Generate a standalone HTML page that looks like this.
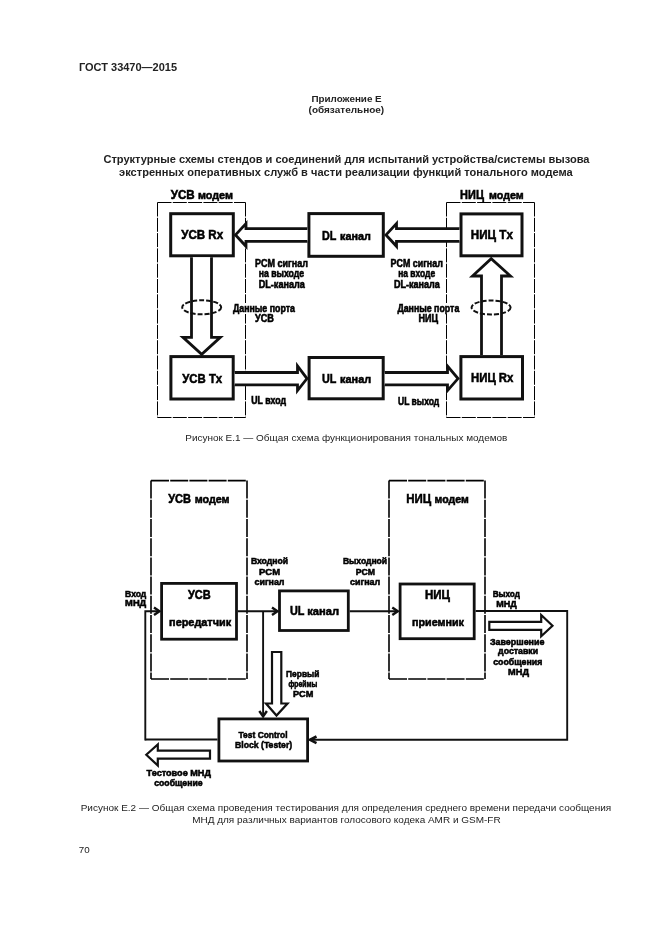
<!DOCTYPE html>
<html><head><meta charset="utf-8"><style>
html,body{margin:0;padding:0;background:#fff;}
svg{display:block;will-change:transform;}
text{font-family:"Liberation Sans",sans-serif;}
</style></head><body>
<svg width="661" height="935" viewBox="0 0 661 935">
<rect width="661" height="935" fill="#fff"/>
<path d="M157.5,202.5 H245.5" fill="none" stroke="#000" stroke-width="1" stroke-dasharray="14 1.3"/>
<path d="M157.5,202.5 V417.5" fill="none" stroke="#000" stroke-width="1" stroke-dasharray="14 1.3"/>
<path d="M245.5,202.5 V417.5" fill="none" stroke="#000" stroke-width="1" stroke-dasharray="14 1.3"/>
<path d="M157.5,417.5 H245.5" fill="none" stroke="#000" stroke-width="1" stroke-dasharray="14 1.3"/>
<path d="M446.5,202.5 H534.5" fill="none" stroke="#000" stroke-width="1" stroke-dasharray="14 1.3"/>
<path d="M446.5,202.5 V417.5" fill="none" stroke="#000" stroke-width="1" stroke-dasharray="14 1.3"/>
<path d="M534.5,202.5 V417.5" fill="none" stroke="#000" stroke-width="1" stroke-dasharray="14 1.3"/>
<path d="M446.5,417.5 H534.5" fill="none" stroke="#000" stroke-width="1" stroke-dasharray="14 1.3"/>
<rect x="233" y="303" width="62" height="11" fill="#fff"/>
<rect x="398" y="303" width="61" height="11" fill="#fff"/>
<rect x="170.70" y="213.70" width="62.60" height="42.10" fill="none" stroke="#111" stroke-width="3"/>
<rect x="308.90" y="213.60" width="74.40" height="42.70" fill="none" stroke="#111" stroke-width="3"/>
<rect x="461.00" y="213.90" width="61.00" height="41.90" fill="none" stroke="#111" stroke-width="3"/>
<rect x="170.90" y="356.60" width="62.30" height="42.40" fill="none" stroke="#111" stroke-width="3"/>
<rect x="309.10" y="357.50" width="74.10" height="41.30" fill="none" stroke="#111" stroke-width="3"/>
<rect x="460.90" y="356.60" width="61.60" height="42.40" fill="none" stroke="#111" stroke-width="3"/>
<path d="M307.4,228.6 H246 V223.5 L235.5,234.9 L246,246.3 V241.3 H307.4" fill="#fff" stroke="#111" stroke-width="2.8" stroke-linejoin="miter"/>
<path d="M459.5,228.6 H396.5 V223.5 L386,234.9 L396.5,246.3 V241.3 H459.5" fill="#fff" stroke="#111" stroke-width="2.8" stroke-linejoin="miter"/>
<path d="M191.5,257.3 V337.3 H183 L201.7,354.3 L220.3,337.3 H211.5 V257.3" fill="#fff" stroke="#111" stroke-width="2.8" stroke-linejoin="miter"/>
<path d="M481.5,355.1 V276 H472.5 L491.2,258.7 L510.5,276 H501.5 V355.1" fill="#fff" stroke="#111" stroke-width="2.8" stroke-linejoin="miter"/>
<path d="M234.7,372.5 H297.5 V366 L307,378.6 L297.5,390.6 V384.8 H234.7" fill="#fff" stroke="#111" stroke-width="2.8" stroke-linejoin="miter"/>
<path d="M384.7,372.5 H447.5 V366 L458,378.6 L447.5,390.6 V384.8 H384.7" fill="#fff" stroke="#111" stroke-width="2.8" stroke-linejoin="miter"/>
<ellipse cx="201.7" cy="307.3" rx="19.5" ry="7" fill="none" stroke="#111" stroke-width="2" stroke-dasharray="5 2"/>
<ellipse cx="491.1" cy="307.5" rx="19.5" ry="7" fill="none" stroke="#111" stroke-width="2" stroke-dasharray="5 2"/>
<path d="M151,480.6 H247" fill="none" stroke="#000" stroke-width="1.6" stroke-dasharray="18 1.2"/>
<path d="M151,480.6 V679" fill="none" stroke="#000" stroke-width="1.6" stroke-dasharray="18 1.2"/>
<path d="M247,480.6 V679" fill="none" stroke="#000" stroke-width="1.6" stroke-dasharray="18 1.2"/>
<path d="M151,679 H247" fill="none" stroke="#000" stroke-width="1.6" stroke-dasharray="18 1.2"/>
<path d="M389,480.6 H485" fill="none" stroke="#000" stroke-width="1.6" stroke-dasharray="18 1.2"/>
<path d="M389,480.6 V679" fill="none" stroke="#000" stroke-width="1.6" stroke-dasharray="18 1.2"/>
<path d="M485,480.6 V679" fill="none" stroke="#000" stroke-width="1.6" stroke-dasharray="18 1.2"/>
<path d="M389,679 H485" fill="none" stroke="#000" stroke-width="1.6" stroke-dasharray="18 1.2"/>
<rect x="161.60" y="583.40" width="74.90" height="55.80" fill="none" stroke="#111" stroke-width="2.8"/>
<rect x="279.50" y="590.90" width="68.80" height="39.60" fill="none" stroke="#111" stroke-width="2.8"/>
<rect x="400.10" y="584.00" width="74.10" height="54.70" fill="none" stroke="#111" stroke-width="2.8"/>
<rect x="218.90" y="718.90" width="88.70" height="42.10" fill="none" stroke="#111" stroke-width="2.8"/>
<path d="M145.3,740.4 V611.2 H159" fill="none" stroke="#111" stroke-width="1.9" stroke-linejoin="miter"/>
<path d="M237.9,611.2 H277" fill="none" stroke="#111" stroke-width="1.9" stroke-linejoin="miter"/>
<path d="M263.1,611.2 V716" fill="none" stroke="#111" stroke-width="1.9" stroke-linejoin="miter"/>
<path d="M349.7,611.2 H397.5" fill="none" stroke="#111" stroke-width="1.9" stroke-linejoin="miter"/>
<path d="M475.6,611 H567.2 V739.8 H310" fill="none" stroke="#111" stroke-width="1.9" stroke-linejoin="miter"/>
<path d="M217.5,739.5 H145.3" fill="none" stroke="#111" stroke-width="1.9" stroke-linejoin="miter"/>
<path d="M154.0,607.4000000000001 L159.5,611.2 L154.0,615.0" fill="none" stroke="#111" stroke-width="2.4" stroke-linejoin="miter"/>
<path d="M272.0,607.4000000000001 L277.5,611.2 L272.0,615.0" fill="none" stroke="#111" stroke-width="2.4" stroke-linejoin="miter"/>
<path d="M259.3,711.0 L263.1,716.5 L266.90000000000003,711.0" fill="none" stroke="#111" stroke-width="2.4" stroke-linejoin="miter"/>
<path d="M392.3,607.4000000000001 L397.8,611.2 L392.3,615.0" fill="none" stroke="#111" stroke-width="2.4" stroke-linejoin="miter"/>
<path d="M316.5,736.5 L310,739.8 L316.5,743.0999999999999" fill="none" stroke="#111" stroke-width="2.6" stroke-linejoin="miter"/>
<path d="M489.3,621.8 H541.2 V615 L552.5,625.7 L541.2,636.2 V629.8 H489.3 Z" fill="none" stroke="#111" stroke-width="2.2" stroke-linejoin="miter"/>
<path d="M272,652 V703.5 H266 L276.5,715.5 L287.5,703.5 H281.3 V652 Z" fill="none" stroke="#111" stroke-width="2.2" stroke-linejoin="miter"/>
<path d="M210,750.6 H157.8 V744.5 L146.3,754.8 L157.8,765.5 V758.7 H210 Z" fill="none" stroke="#111" stroke-width="2.2" stroke-linejoin="miter"/>
<text x="79.00" y="71.20" font-size="11" font-weight="bold" textLength="98.00" lengthAdjust="spacingAndGlyphs" fill="#222">ГОСТ 33470—2015</text>
<text x="311.40" y="102.00" font-size="9.4" font-weight="bold" textLength="70.30" lengthAdjust="spacingAndGlyphs" fill="#222">Приложение Е</text>
<text x="308.60" y="113.00" font-size="9.4" font-weight="bold" textLength="75.60" lengthAdjust="spacingAndGlyphs" fill="#222">(обязательное)</text>
<text x="103.40" y="163.10" font-size="10" font-weight="bold" textLength="486.12" lengthAdjust="spacingAndGlyphs" fill="#222">Структурные схемы стендов и соединений для испытаний устройства/системы вызова</text>
<text x="119.10" y="175.50" font-size="10" font-weight="bold" textLength="453.53" lengthAdjust="spacingAndGlyphs" fill="#222">экстренных оперативных служб в части реализации функций тонального модема</text>
<text x="170.70" y="198.80" font-size="13.5" font-weight="bold" textLength="24.00" lengthAdjust="spacingAndGlyphs" fill="#000" stroke="#000" stroke-width="0.55">УСВ</text>
<text x="197.90" y="198.80" font-size="11.6" font-weight="bold" textLength="35.00" lengthAdjust="spacingAndGlyphs" fill="#000" stroke="#000" stroke-width="0.55">модем</text>
<text x="460.10" y="198.80" font-size="13.5" font-weight="bold" textLength="23.80" lengthAdjust="spacingAndGlyphs" fill="#000" stroke="#000" stroke-width="0.55">НИЦ</text>
<text x="489.00" y="198.80" font-size="11.6" font-weight="bold" textLength="34.70" lengthAdjust="spacingAndGlyphs" fill="#000" stroke="#000" stroke-width="0.55">модем</text>
<text x="181.20" y="238.60" font-size="13" font-weight="bold" textLength="42.00" lengthAdjust="spacingAndGlyphs" fill="#000" stroke="#000" stroke-width="0.55">УСВ Rx</text>
<text x="321.90" y="240.10" font-size="13" font-weight="bold" textLength="14.40" lengthAdjust="spacingAndGlyphs" fill="#000" stroke="#000" stroke-width="0.55">DL</text>
<text x="340.10" y="240.10" font-size="11.2" font-weight="bold" textLength="30.70" lengthAdjust="spacingAndGlyphs" fill="#000" stroke="#000" stroke-width="0.55">канал</text>
<text x="470.80" y="238.70" font-size="13" font-weight="bold" textLength="42.10" lengthAdjust="spacingAndGlyphs" fill="#000" stroke="#000" stroke-width="0.55">НИЦ Tx</text>
<text x="255.00" y="267.10" font-size="10" font-weight="bold" textLength="52.90" lengthAdjust="spacingAndGlyphs" fill="#000" stroke="#000" stroke-width="0.55">PCM сигнал</text>
<text x="258.70" y="277.40" font-size="10" font-weight="bold" textLength="45.30" lengthAdjust="spacingAndGlyphs" fill="#000" stroke="#000" stroke-width="0.55">на выходе</text>
<text x="258.70" y="287.50" font-size="10" font-weight="bold" textLength="46.14" lengthAdjust="spacingAndGlyphs" fill="#000" stroke="#000" stroke-width="0.55">DL-канала</text>
<text x="233.00" y="312.20" font-size="10" font-weight="bold" textLength="61.94" lengthAdjust="spacingAndGlyphs" fill="#000" stroke="#000" stroke-width="0.55">Данные порта</text>
<text x="255.00" y="321.60" font-size="10" font-weight="bold" textLength="18.90" lengthAdjust="spacingAndGlyphs" fill="#000" stroke="#000" stroke-width="0.55">УСВ</text>
<text x="390.60" y="266.80" font-size="10" font-weight="bold" textLength="52.20" lengthAdjust="spacingAndGlyphs" fill="#000" stroke="#000" stroke-width="0.55">PCM сигнал</text>
<text x="398.20" y="277.20" font-size="10" font-weight="bold" textLength="37.00" lengthAdjust="spacingAndGlyphs" fill="#000" stroke="#000" stroke-width="0.55">на входе</text>
<text x="393.90" y="287.50" font-size="10" font-weight="bold" textLength="45.84" lengthAdjust="spacingAndGlyphs" fill="#000" stroke="#000" stroke-width="0.55">DL-канала</text>
<text x="397.40" y="312.20" font-size="10" font-weight="bold" textLength="61.94" lengthAdjust="spacingAndGlyphs" fill="#000" stroke="#000" stroke-width="0.55">Данные порта</text>
<text x="418.60" y="321.60" font-size="10" font-weight="bold" textLength="19.60" lengthAdjust="spacingAndGlyphs" fill="#000" stroke="#000" stroke-width="0.55">НИЦ</text>
<text x="182.20" y="382.80" font-size="13" font-weight="bold" textLength="40.00" lengthAdjust="spacingAndGlyphs" fill="#000" stroke="#000" stroke-width="0.55">УСВ Tx</text>
<text x="321.90" y="382.80" font-size="13" font-weight="bold" textLength="14.40" lengthAdjust="spacingAndGlyphs" fill="#000" stroke="#000" stroke-width="0.55">UL</text>
<text x="340.10" y="382.80" font-size="11.2" font-weight="bold" textLength="31.00" lengthAdjust="spacingAndGlyphs" fill="#000" stroke="#000" stroke-width="0.55">канал</text>
<text x="471.00" y="381.60" font-size="13" font-weight="bold" textLength="42.39" lengthAdjust="spacingAndGlyphs" fill="#000" stroke="#000" stroke-width="0.55">НИЦ Rx</text>
<text x="251.20" y="404.00" font-size="10" font-weight="bold" textLength="34.80" lengthAdjust="spacingAndGlyphs" fill="#000" stroke="#000" stroke-width="0.55">UL вход</text>
<text x="398.00" y="404.50" font-size="10" font-weight="bold" textLength="41.20" lengthAdjust="spacingAndGlyphs" fill="#000" stroke="#000" stroke-width="0.55">UL выход</text>
<text x="185.30" y="441.10" font-size="9" font-weight="normal" textLength="322.10" lengthAdjust="spacingAndGlyphs" fill="#222">Рисунок Е.1 — Общая схема функционирования тональных модемов</text>
<text x="168.20" y="502.70" font-size="13.5" font-weight="bold" textLength="22.80" lengthAdjust="spacingAndGlyphs" fill="#000" stroke="#000" stroke-width="0.55">УСВ</text>
<text x="194.70" y="502.70" font-size="11.6" font-weight="bold" textLength="34.90" lengthAdjust="spacingAndGlyphs" fill="#000" stroke="#000" stroke-width="0.55">модем</text>
<text x="406.20" y="502.80" font-size="13.5" font-weight="bold" textLength="25.00" lengthAdjust="spacingAndGlyphs" fill="#000" stroke="#000" stroke-width="0.55">НИЦ</text>
<text x="434.60" y="502.80" font-size="11.6" font-weight="bold" textLength="34.10" lengthAdjust="spacingAndGlyphs" fill="#000" stroke="#000" stroke-width="0.55">модем</text>
<text x="125.10" y="596.60" font-size="9" font-weight="bold" textLength="21.20" lengthAdjust="spacingAndGlyphs" fill="#000" stroke="#000" stroke-width="0.55">Вход</text>
<text x="125.10" y="606.30" font-size="9" font-weight="bold" textLength="21.20" lengthAdjust="spacingAndGlyphs" fill="#000" stroke="#000" stroke-width="0.55">МНД</text>
<text x="188.00" y="599.00" font-size="12" font-weight="bold" textLength="22.70" lengthAdjust="spacingAndGlyphs" fill="#000" stroke="#000" stroke-width="0.55">УСВ</text>
<text x="169.10" y="625.80" font-size="11" font-weight="bold" textLength="62.00" lengthAdjust="spacingAndGlyphs" fill="#000" stroke="#000" stroke-width="0.55">передатчик</text>
<text x="250.90" y="564.10" font-size="9" font-weight="bold" textLength="37.20" lengthAdjust="spacingAndGlyphs" fill="#000" stroke="#000" stroke-width="0.55">Входной</text>
<text x="259.00" y="575.00" font-size="9" font-weight="bold" textLength="21.00" lengthAdjust="spacingAndGlyphs" fill="#000" stroke="#000" stroke-width="0.55">PCM</text>
<text x="254.50" y="585.30" font-size="9" font-weight="bold" textLength="30.00" lengthAdjust="spacingAndGlyphs" fill="#000" stroke="#000" stroke-width="0.55">сигнал</text>
<text x="290.00" y="615.40" font-size="13" font-weight="bold" textLength="14.50" lengthAdjust="spacingAndGlyphs" fill="#000" stroke="#000" stroke-width="0.55">UL</text>
<text x="307.20" y="615.40" font-size="11.2" font-weight="bold" textLength="31.80" lengthAdjust="spacingAndGlyphs" fill="#000" stroke="#000" stroke-width="0.55">канал</text>
<text x="342.90" y="564.40" font-size="9" font-weight="bold" textLength="44.20" lengthAdjust="spacingAndGlyphs" fill="#000" stroke="#000" stroke-width="0.55">Выходной</text>
<text x="355.70" y="575.00" font-size="9" font-weight="bold" textLength="19.30" lengthAdjust="spacingAndGlyphs" fill="#000" stroke="#000" stroke-width="0.55">PCM</text>
<text x="350.00" y="585.30" font-size="9" font-weight="bold" textLength="30.20" lengthAdjust="spacingAndGlyphs" fill="#000" stroke="#000" stroke-width="0.55">сигнал</text>
<text x="424.90" y="598.80" font-size="12" font-weight="bold" textLength="25.00" lengthAdjust="spacingAndGlyphs" fill="#000" stroke="#000" stroke-width="0.55">НИЦ</text>
<text x="412.00" y="625.50" font-size="11" font-weight="bold" textLength="52.00" lengthAdjust="spacingAndGlyphs" fill="#000" stroke="#000" stroke-width="0.55">приемник</text>
<text x="492.70" y="596.90" font-size="9" font-weight="bold" textLength="27.20" lengthAdjust="spacingAndGlyphs" fill="#000" stroke="#000" stroke-width="0.55">Выход</text>
<text x="496.30" y="607.20" font-size="9" font-weight="bold" textLength="20.50" lengthAdjust="spacingAndGlyphs" fill="#000" stroke="#000" stroke-width="0.55">МНД</text>
<text x="490.00" y="644.80" font-size="9" font-weight="bold" textLength="54.40" lengthAdjust="spacingAndGlyphs" fill="#000" stroke="#000" stroke-width="0.55">Завершение</text>
<text x="498.10" y="654.40" font-size="9" font-weight="bold" textLength="40.00" lengthAdjust="spacingAndGlyphs" fill="#000" stroke="#000" stroke-width="0.55">доставки</text>
<text x="493.20" y="664.80" font-size="9" font-weight="bold" textLength="49.10" lengthAdjust="spacingAndGlyphs" fill="#000" stroke="#000" stroke-width="0.55">сообщения</text>
<text x="508.10" y="675.30" font-size="9" font-weight="bold" textLength="20.90" lengthAdjust="spacingAndGlyphs" fill="#000" stroke="#000" stroke-width="0.55">МНД</text>
<text x="286.10" y="676.70" font-size="9" font-weight="bold" textLength="33.30" lengthAdjust="spacingAndGlyphs" fill="#000" stroke="#000" stroke-width="0.55">Первый</text>
<text x="288.40" y="686.60" font-size="9" font-weight="bold" textLength="28.80" lengthAdjust="spacingAndGlyphs" fill="#000" stroke="#000" stroke-width="0.55">фреймы</text>
<text x="293.00" y="697.20" font-size="9" font-weight="bold" textLength="20.40" lengthAdjust="spacingAndGlyphs" fill="#000" stroke="#000" stroke-width="0.55">PCM</text>
<text x="238.60" y="737.50" font-size="9.5" font-weight="bold" textLength="49.00" lengthAdjust="spacingAndGlyphs" fill="#000" stroke="#000" stroke-width="0.55">Test Control</text>
<text x="235.00" y="747.50" font-size="9.5" font-weight="bold" textLength="57.20" lengthAdjust="spacingAndGlyphs" fill="#000" stroke="#000" stroke-width="0.55">Block (Tester)</text>
<text x="146.60" y="775.80" font-size="9" font-weight="bold" textLength="64.30" lengthAdjust="spacingAndGlyphs" fill="#000" stroke="#000" stroke-width="0.55">Тестовое МНД</text>
<text x="154.20" y="785.60" font-size="9" font-weight="bold" textLength="48.40" lengthAdjust="spacingAndGlyphs" fill="#000" stroke="#000" stroke-width="0.55">сообщение</text>
<text x="80.70" y="811.20" font-size="9" font-weight="normal" textLength="530.50" lengthAdjust="spacingAndGlyphs" fill="#222">Рисунок Е.2 — Общая схема проведения тестирования для определения среднего времени передачи сообщения</text>
<text x="192.20" y="822.90" font-size="9" font-weight="normal" textLength="308.40" lengthAdjust="spacingAndGlyphs" fill="#222">МНД для различных вариантов голосового кодека AMR и GSM-FR</text>
<text x="78.70" y="853.10" font-size="9" font-weight="normal" textLength="10.90" lengthAdjust="spacingAndGlyphs" fill="#222">70</text>
</svg>
</body></html>
